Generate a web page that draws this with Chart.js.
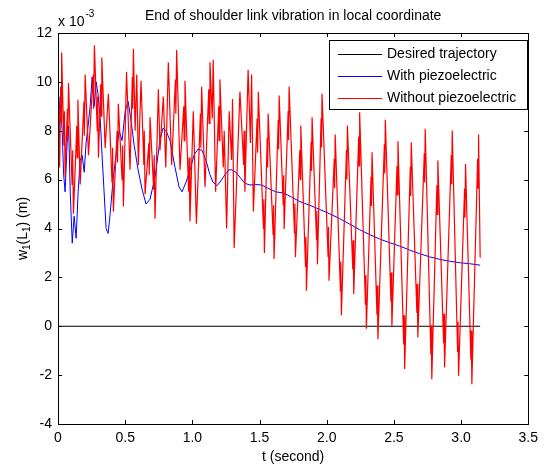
<!DOCTYPE html>
<html>
<head>
<meta charset="utf-8">
<script src="https://cdn.jsdelivr.net/npm/chart.js@4.4.1/dist/chart.umd.min.js"></script>
<style>
  html, body { margin: 0; padding: 0; background: #fff; }
  #wrap { width: 544px; height: 466px; position: relative; }
</style>
</head>
<body>
<div id="wrap"><canvas id="c"></canvas></div>
<script>
// values; deflection in units of 1e-3 m
const seriesNames = ['Desired trajectory', 'With piezoelectric', 'Without piezoelectric'];
const xTicks = [0, 0.5, 1, 1.5, 2, 2.5, 3, 3.5];
const yTicks = [-4, -2, 0, 2, 4, 6, 8, 10, 12];

const timeDesired = [0, 3.142];
const desired = [0, 0];

const timeWith = [
    0, 0.006, 0.016, 0.031, 0.042, 0.053, 0.068, 0.079, 0.091, 0.106,
    0.120, 0.135, 0.150, 0.165, 0.180, 0.195, 0.209, 0.224, 0.239, 0.254,
    0.269, 0.284, 0.298, 0.314, 0.328, 0.343, 0.358, 0.373, 0.388, 0.410,
    0.432, 0.455, 0.477, 0.500, 0.522, 0.544, 0.567, 0.596, 0.626, 0.655,
    0.685, 0.722, 0.759, 0.781, 0.804, 0.834, 0.871, 0.901, 0.923, 0.953,
    0.983, 1.012, 1.042, 1.071, 1.101, 1.131, 1.153, 1.183, 1.213, 1.242,
    1.272, 1.294, 1.324, 1.354, 1.391, 1.428, 1.472, 1.517, 1.562, 1.621,
    1.681, 1.740, 1.800, 1.874, 1.948, 2.023, 2.097, 2.171, 2.245, 2.320,
    2.394, 2.468, 2.543, 2.617, 2.691, 2.766, 2.840, 2.914, 2.988, 3.063,
    3.142
];
const withPiezo = [
    6.8, 8.5, 9.4, 8.0, 6.2, 5.5, 7.5, 8.2, 5.5, 3.4,
    4.5, 3.6, 5.5, 6.8, 7.0, 6.3, 7.5, 8.2, 9.0, 10.2,
    9.0, 10.0, 9.5, 8.5, 7.0, 5.5, 4.0, 3.8, 4.6, 6.0,
    7.0, 8.0, 7.6, 8.8, 9.2, 8.4, 7.4, 6.4, 5.6, 5.0,
    5.2, 6.1, 7.6, 8.1, 8.0, 7.6, 6.5, 5.7, 5.5, 5.9,
    6.4, 7.0, 7.25, 7.2, 6.8, 6.2, 5.9, 5.75, 5.95, 6.2,
    6.4, 6.4, 6.3, 6.1, 5.85, 5.78, 5.8, 5.78, 5.65, 5.5,
    5.45, 5.28, 5.1, 4.95, 4.78, 4.6, 4.4, 4.18, 3.95, 3.75,
    3.57, 3.42, 3.28, 3.12, 2.97, 2.84, 2.74, 2.66, 2.6, 2.56,
    2.5
];

const timeWithout = [
    0, 0.006, 0.012, 0.020, 0.023, 0.027, 0.044, 0.048, 0.053, 0.070,
    0.073, 0.078, 0.105, 0.109, 0.115, 0.140, 0.143, 0.148, 0.165, 0.193,
    0.196, 0.202, 0.227, 0.262, 0.265, 0.271, 0.292, 0.295, 0.301, 0.318,
    0.321, 0.326, 0.351, 0.375, 0.402, 0.406, 0.412, 0.440, 0.443, 0.449,
    0.477, 0.481, 0.487, 0.510, 0.536, 0.553, 0.556, 0.561, 0.574, 0.586,
    0.598, 0.618, 0.639, 0.642, 0.648, 0.676, 0.679, 0.685, 0.712, 0.716,
    0.722, 0.747, 0.759, 0.784, 0.802, 0.821, 0.846, 0.874, 0.877, 0.883,
    0.908, 0.936, 0.939, 0.945, 0.972, 0.976, 0.982, 1.007, 1.030, 1.060,
    1.063, 1.069, 1.094, 1.122, 1.125, 1.131, 1.148, 1.155, 1.173, 1.196,
    1.199, 1.205, 1.230, 1.237, 1.255, 1.274, 1.292, 1.299, 1.311, 1.337,
    1.354, 1.382, 1.385, 1.391, 1.415, 1.432, 1.441, 1.454, 1.482, 1.485,
    1.491, 1.529, 1.532, 1.536, 1.557, 1.560, 1.564, 1.601, 1.604, 1.608,
    1.639, 1.642, 1.646, 1.676, 1.679, 1.683, 1.713, 1.716, 1.720,
    1.760, 1.763, 1.767, 1.800, 1.803, 1.807, 1.842, 1.845, 1.849,
    1.884, 1.887, 1.891, 1.924, 1.927, 1.931, 1.958, 1.961, 1.965,
    2.010, 2.013, 2.017, 2.056, 2.059, 2.063, 2.102, 2.105, 2.109,
    2.147, 2.150, 2.154, 2.194, 2.197, 2.201, 2.238, 2.241, 2.245,
    2.288, 2.291, 2.295, 2.330, 2.333, 2.337, 2.374, 2.377, 2.381,
    2.429, 2.432, 2.436, 2.478, 2.481, 2.485, 2.523, 2.526, 2.530,
    2.573, 2.576, 2.580, 2.622, 2.625, 2.629, 2.671, 2.674, 2.678,
    2.726, 2.729, 2.733, 2.775, 2.778, 2.782, 2.820, 2.823, 2.827,
    2.870, 2.873, 2.877, 2.927, 2.930, 2.934, 2.974, 2.977, 2.981,
    3.026, 3.029, 3.033, 3.073, 3.076, 3.080, 3.123, 3.126, 3.130, 3.142
];
const withoutPiezo = [
    6.8, 9.2, 6.5, 9.8, 8.4, 11.2, 7.4, 8.8, 6.1, 8.9,
    7.6, 9.95, 5.8, 7.2, 4.6, 8.2, 6.9, 9.27, 5.8, 9.2,
    7.8, 10.3, 7.0, 10.3, 8.9, 11.5, 8.0, 9.4, 6.9, 9.9,
    8.6, 11.0, 7.3, 9.5, 5.9, 7.3, 4.7, 8.0, 6.7, 9.1,
    6.0, 7.4, 4.9, 10.4, 6.4, 10.2, 8.9, 11.36, 8.0, 10.3,
    6.6, 10.05, 6.6, 8.0, 5.4, 7.5, 6.2, 8.55, 5.6, 7.0,
    4.4, 9.7, 7.2, 9.4, 6.5, 10.8, 6.6, 10.1, 8.7, 11.3,
    6.4, 9.0, 7.6, 10.05, 5.5, 6.9, 4.3, 8.8, 4.2, 8.7,
    7.3, 9.8, 5.7, 9.7, 8.3, 10.8, 8.5, 10.9, 5.5, 9.0,
    7.6, 10.1, 6.5, 8.0, 4.0, 8.8, 6.8, 9.3, 3.2, 7.0,
    9.6, 6.6, 8.0, 5.5, 10.5, 7.5, 10.3, 4.7, 8.5, 7.1,
    9.6, 4.0, 5.2, 3.0, 7.7, 6.5, 8.7, 3.75, 4.95, 2.75,
    8.44, 7.24, 9.44, 4.98, 6.18, 3.98, 8.81, 7.61, 9.81,
    3.82, 5.02, 2.82, 7.21, 6.01, 8.21, 2.45, 3.65, 1.45,
    7.55, 6.35, 8.55, 3.54, 4.74, 2.54, 8.51, 7.31, 9.51,
    2.86, 4.06, 1.86, 6.85, 5.65, 7.85, 1.45, 2.65, 0.45,
    7.21, 6.01, 8.21, 2.32, 3.52, 1.32, 7.76, 6.56, 8.76,
    0.9, 2.1, -0.1, 6.12, 4.92, 7.12, 0.47, 1.67, -0.53,
    7.45, 6.25, 8.45, 1.0, 2.2, 0.0, 6.57, 5.37, 7.57,
    -0.75, 0.45, -1.75, 6.53, 5.33, 7.53, 0.54, 1.74, -0.46,
    7.08, 5.88, 8.08, -1.17, 0.03, -2.17, 5.78, 4.58, 6.78,
    -0.69, 0.51, -1.69, 7.01, 5.81, 8.01, -1.03, 0.17, -2.03,
    5.64, 4.44, 6.64, -1.37, -0.17, -2.37, 6.85, 5.65, 7.85, 2.8
];

const toPoints = (ts, vs) => ts.map((t, i) => ({ x: t, y: vs[i] }));

const FONT = '"Liberation Sans", Arial, sans-serif';
const FS = 14;
const colors = ['#000000', '#0000ff', '#ff0000'];

// matlab style box, inward ticks, texts and legend
const matlabFrame = {
    id: 'matlabFrame',
    afterDraw(chart) {
        const ctx = chart.ctx;
        const a = chart.chartArea;
        const xs = chart.scales.x;
        const ys = chart.scales.y;
        const tl = 4;

        ctx.save();
        ctx.strokeStyle = '#000';
        ctx.lineWidth = 1;
        ctx.beginPath();
        xTicks.forEach(v => {
            const px = Math.round(xs.getPixelForValue(v)) + 0.5;
            ctx.moveTo(px, a.bottom); ctx.lineTo(px, a.bottom - tl);
            ctx.moveTo(px, a.top); ctx.lineTo(px, a.top + tl);
        });
        yTicks.forEach(v => {
            const py = Math.round(ys.getPixelForValue(v)) + 0.5;
            ctx.moveTo(a.left, py); ctx.lineTo(a.left + tl, py);
            ctx.moveTo(a.right, py); ctx.lineTo(a.right - tl, py);
        });
        ctx.stroke();
        ctx.strokeRect(Math.round(a.left) + 0.5, Math.round(a.top) + 0.5,
            Math.round(a.right - a.left), Math.round(a.bottom - a.top));

        ctx.fillStyle = '#000';
        ctx.font = FS + 'px ' + FONT;
        ctx.textAlign = 'center';
        ctx.textBaseline = 'middle';
        ctx.fillText('End of shoulder link vibration in local coordinate', (a.left + a.right) / 2, 16);
        ctx.fillText('t (second)', (a.left + a.right) / 2, 457);

        // exponent label
        ctx.textAlign = 'left';
        ctx.textBaseline = 'alphabetic';
        ctx.fillText('x 10', a.left, 26);
        const w10 = ctx.measureText('x 10').width;
        ctx.font = '10px ' + FONT;
        ctx.fillText('-3', a.left + w10 + 1, 17);

        // y title with subscripts
        ctx.save();
        ctx.translate(27, (a.top + a.bottom) / 2);
        ctx.rotate(-Math.PI / 2);
        const parts = [['w', 0], ['1', 1], ['(L', 0], ['1', 1], [') (m)', 0]];
        let total = 0;
        parts.forEach(p => {
            ctx.font = (p[1] ? '10px ' : FS + 'px ') + FONT;
            total += ctx.measureText(p[0]).width;
        });
        let cx = -total / 2;
        parts.forEach(p => {
            ctx.font = (p[1] ? '10px ' : FS + 'px ') + FONT;
            ctx.fillText(p[0], cx, p[1] ? 3 : 0);
            cx += ctx.measureText(p[0]).width;
        });
        ctx.restore();

        // legend
        const lx = 329.5, ly = 40.5, lw = 198, lh = 69;
        ctx.fillStyle = '#fff';
        ctx.fillRect(lx, ly, lw, lh);
        ctx.strokeStyle = '#000';
        ctx.strokeRect(lx, ly, lw, lh);
        ctx.font = FS + 'px ' + FONT;
        ctx.textBaseline = 'middle';
        const rows = [54.5, 76.5, 98.5];
        seriesNames.forEach((name, i) => {
            ctx.strokeStyle = colors[i];
            ctx.beginPath();
            ctx.moveTo(338, rows[i]);
            ctx.lineTo(382, rows[i]);
            ctx.stroke();
            ctx.fillStyle = '#000';
            ctx.fillText(name, 387, rows[i]);
        });
        ctx.restore();
    }
};

new Chart(document.getElementById('c'), {
    type: 'line',
    data: {
        datasets: [
            {
                label: seriesNames[2],
                data: toPoints(timeWithout, withoutPiezo),
                borderColor: colors[2],
                borderWidth: 1.2,
                order: 0
            },
            {
                label: seriesNames[1],
                data: toPoints(timeWith, withPiezo),
                borderColor: colors[1],
                borderWidth: 1,
                order: 1
            },
            {
                label: seriesNames[0],
                data: toPoints(timeDesired, desired),
                borderColor: colors[0],
                borderWidth: 1,
                order: 2
            }
        ]
    },
    options: {
        responsive: true,
        maintainAspectRatio: false,
        animation: false,
        devicePixelRatio: 1,
        layout: { padding: { top: 33, right: 15, left: 0, bottom: 0 } },
        elements: { point: { radius: 0 }, line: { tension: 0 } },
        plugins: {
            legend: { display: false },
            title: { display: false },
            tooltip: { enabled: false }
        },
        scales: {
            x: {
                type: 'linear',
                min: 0,
                max: 3.5,
                afterFit(scale) { scale.height = 42; },
                afterBuildTicks(scale) { scale.ticks = xTicks.map(v => ({ value: v })); },
                ticks: {
                    color: '#000',
                    font: { family: FONT, size: FS },
                    padding: 6,
                    maxRotation: 0,
                    autoSkip: false
                },
                grid: { display: false, drawTicks: false },
                border: { display: false }
            },
            y: {
                type: 'linear',
                min: -4,
                max: 12,
                afterFit(scale) { scale.width = 58; },
                afterBuildTicks(scale) { scale.ticks = yTicks.map(v => ({ value: v })); },
                ticks: {
                    color: '#000',
                    font: { family: FONT, size: FS },
                    padding: 6
                },
                grid: { display: false, drawTicks: false },
                border: { display: false }
            }
        }
    },
    plugins: [matlabFrame]
});
</script>
</body>
</html>
